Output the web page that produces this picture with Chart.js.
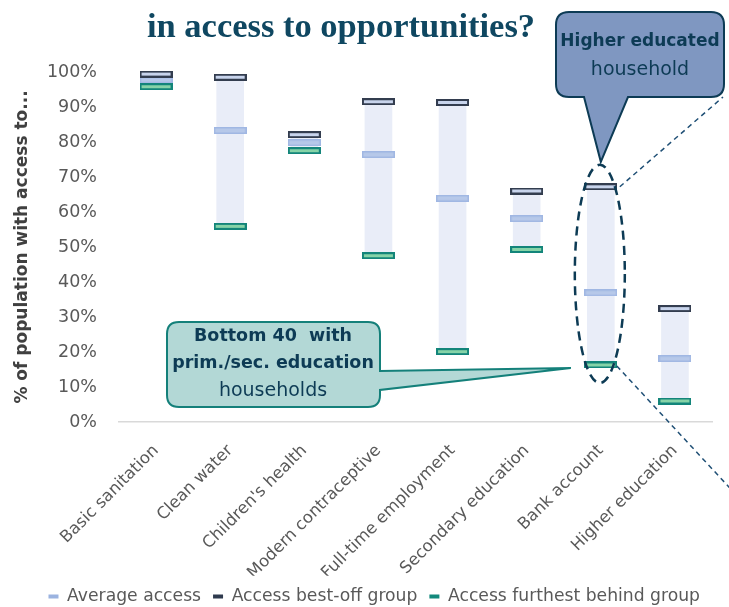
<!DOCTYPE html>
<html><head><meta charset="utf-8">
<script src="https://cdn.jsdelivr.net/npm/chart.js@4.4.1/dist/chart.umd.min.js"></script>
<style>html,body{margin:0;padding:0;background:#fff;}#wrap{width:729px;height:607px;position:relative;}</style>
</head><body><div id="wrap"><canvas id="c" width="729" height="607"></canvas></div>
<script>
const categories = ['Basic sanitation','Clean water',"Children's health",'Modern contraceptive','Full-time employment','Secondary education','Bank account','Higher education'];
const averageAccess = [97.7, 83.3, 79.8, 76.4, 63.9, 58.1, 36.9, 18.1];
const bestOffAccess = [99.4, 98.5, 82.1, 91.5, 91.3, 66.0, 67.2, 32.4];
const furthestBehindAccess = [95.8, 55.9, 77.5, 47.5, 20.1, 49.3, 16.3, 6.0];
const yTickValues = [0,10,20,30,40,50,60,70,80,90,100];
const seriesNames = ['Average access','Access best-off group','Access furthest behind group'];
const legendColors = ['#9bb3e0','#2f3a4e','#13897c'];

function makeMarker(fill, stroke, lw){
  const c = document.createElement('canvas');
  c.width = 33; c.height = 7;
  const g = c.getContext('2d');
  g.fillStyle = fill; g.fillRect(0,0,33,7);
  g.strokeStyle = stroke; g.lineWidth = lw;
  g.strokeRect(lw/2, lw/2, 33-lw, 7-lw);
  return c;
}
const mAvg = makeMarker('#b6c8e9','#a0b7e3',1.5);
const mBest = makeMarker('#c8d4ec','#333d4f',2);
const mFur = makeMarker('#86d3a8','#13857a',2);

const calloutPlugin = {
  id:'callouts',
  afterDraw(chart){
    const ctx = chart.ctx;
    const xs = chart.scales.x, ys = chart.scales.y;
    ctx.save();
    ctx.fillStyle = '#0f4761';
    ctx.font = 'bold 34.5px "Liberation Serif"';
    ctx.textAlign = 'center'; ctx.textBaseline = 'alphabetic';
    ctx.fillText('in access to opportunities?', 341, 37);

    const bx = xs.getPixelForValue(6);
    const yBest = ys.getPixelForValue(bestOffAccess[6]);
    const yFur = ys.getPixelForValue(furthestBehindAccess[6]);
    ctx.strokeStyle = '#1f4f75'; ctx.lineWidth = 1.5; ctx.setLineDash([5,4]);
    ctx.beginPath(); ctx.moveTo(bx+19, yBest); ctx.lineTo(723, 97); ctx.stroke();
    ctx.beginPath(); ctx.moveTo(bx+16, yFur+1); ctx.lineTo(bx+16+150, yFur+1+162); ctx.stroke();

    ctx.strokeStyle = '#0d3b55'; ctx.lineWidth = 2.5; ctx.setLineDash([9,6]);
    const top = yBest - 22, bot = yFur + 18;
    ctx.beginPath(); ctx.ellipse(bx-1, (top+bot)/2, 25, (bot-top)/2, 0, 0, Math.PI*2); ctx.stroke();
    ctx.setLineDash([]);

    function roundedCallout(x0,y0,x1,y1,r,pointer,fill,stroke){
      ctx.beginPath();
      ctx.moveTo(x0+r,y0);
      ctx.lineTo(x1-r,y0); ctx.quadraticCurveTo(x1,y0,x1,y0+r);
      if(pointer.side==='right'){
        ctx.lineTo(x1,pointer.a); ctx.lineTo(pointer.tx,pointer.ty); ctx.lineTo(x1,pointer.b);
      }
      ctx.lineTo(x1,y1-r); ctx.quadraticCurveTo(x1,y1,x1-r,y1);
      if(pointer.side==='bottom'){
        ctx.lineTo(pointer.b,y1); ctx.lineTo(pointer.tx,pointer.ty); ctx.lineTo(pointer.a,y1);
      }
      ctx.lineTo(x0+r,y1); ctx.quadraticCurveTo(x0,y1,x0,y1-r);
      ctx.lineTo(x0,y0+r); ctx.quadraticCurveTo(x0,y0,x0+r,y0);
      ctx.closePath();
      ctx.fillStyle = fill; ctx.fill();
      ctx.strokeStyle = stroke; ctx.lineWidth = 2; ctx.stroke();
    }
    roundedCallout(556,12,724,97,13,{side:'bottom',a:584,b:628,tx:bx,ty:yBest-25},'#7f97c1','#0d3b55');
    ctx.fillStyle = '#0d3b55'; ctx.textAlign='center'; ctx.textBaseline='middle';
    ctx.font = 'bold 17px "DejaVu Sans"';
    ctx.fillText('Higher educated', 640, 42);
    ctx.font = '19px "DejaVu Sans"';
    ctx.fillText('household', 640, 70);

    roundedCallout(167,322,380,407,12,{side:'right',a:371,b:390,tx:bx-30,ty:yFur+3},'#b3d8d6','#14807a');
    ctx.fillStyle = '#0d3b55';
    ctx.font = 'bold 17.5px "DejaVu Sans"';
    ctx.fillText('Bottom 40  with', 273, 336);
    ctx.fillText('prim./sec. education', 273, 363);
    ctx.font = '19px "DejaVu Sans"';
    ctx.fillText('households', 273, 391);
    ctx.restore();
  }
};

const ctx = document.getElementById('c').getContext('2d');
new Chart(ctx, {
  type:'bar',
  data:{
    labels: categories,
    datasets:[
      {type:'line', label:seriesNames[2], data:furthestBehindAccess, showLine:false, pointStyle:mFur, pointRadius:4, order:0, clip:false},
      {type:'line', label:seriesNames[1], data:bestOffAccess, showLine:false, pointStyle:mBest, pointRadius:4, order:1, clip:false},
      {type:'line', label:seriesNames[0], data:averageAccess, showLine:false, pointStyle:mAvg, pointRadius:4, order:2, clip:false},
      {type:'bar', label:'range', data:furthestBehindAccess.map((v,i)=>[v,bestOffAccess[i]]), backgroundColor:'#e9edf8', borderWidth:0, barThickness:27, order:3, grouped:false}
    ]
  },
  options:{
    responsive:false, devicePixelRatio:1, animation:false, events:[],
    layout:{padding:{top:72,right:17,bottom:-8,left:0}},
    plugins:{
      tooltip:{enabled:false},
      legend:{
        position:'bottom', align:'end',
        labels:{
          boxWidth:10, boxHeight:4, padding:12, color:'#595959',
          font:{family:'DejaVu Sans', size:17.2},
          generateLabels(){
            return seriesNames.map((t,i)=>({text:t, fillStyle:legendColors[i], strokeStyle:legendColors[i], lineWidth:0, hidden:false, fontColor:'#595959'}));
          }
        }
      }
    },
    scales:{
      x:{
        offset:true,
        grid:{display:false},
        border:{color:'#d9d9d9', width:1.5},
        ticks:{autoSkip:false, minRotation:45, maxRotation:45, color:'#595959', font:{family:'DejaVu Sans', size:16.5}, padding:11},
        afterFit(s){ s.height = 153.8; }
      },
      y:{
        min:0, max:100,
        afterBuildTicks(s){ s.ticks = yTickValues.map(v=>({value:v})); },
        grid:{display:false, drawTicks:false},
        border:{display:false},
        ticks:{color:'#595959', padding:22, font:{family:'DejaVu Sans', size:17.5}, callback:v=>v+'%'},
        title:{display:true, text:'% of population with access to...', color:'#404040', font:{family:'DejaVu Sans', size:17, weight:'bold'}, padding:{top:12,bottom:4}},
        afterFit(s){ s.width = 119; }
      }
    }
  },
  plugins:[calloutPlugin]
});
</script></body></html>
